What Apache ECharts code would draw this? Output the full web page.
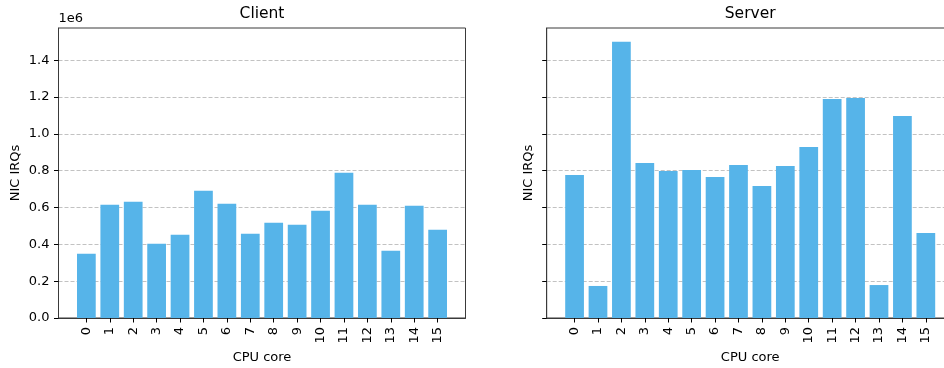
<!DOCTYPE html>
<html>
<head>
<meta charset="utf-8">
<script src="https://cdn.jsdelivr.net/npm/echarts@6/dist/echarts.min.js"></script>
<style>
  html, body { margin: 0; padding: 0; background: #fff; }
  #chart { width: 944px; height: 368px; }
</style>
</head>
<body>
<div id="chart"></div>
<script>
// NIC interrupt counts per CPU core, client and server side
const cores = [0, 1, 2, 3, 4, 5, 6, 7, 8, 9, 10, 11, 12, 13, 14, 15];
const clientIrqs = [349000, 615000, 631000, 403000, 452000, 691000, 620000, 458000,
                    517000, 506000, 582000, 789000, 615000, 365000, 610000, 479000];
const serverIrqs = [777000, 174000, 1500000, 842000, 798000, 804000, 766000, 831000,
                    717000, 826000, 929000, 1189000, 1195000, 179000, 1097000, 462000];
const yTicks = [0, 200000, 400000, 600000, 800000, 1000000, 1200000, 1400000];
const panelTitles = ['Client', 'Server'];

const FONT = 'DejaVu Sans';
const BAR = '#56B4E9';
const SPINE = '#3a3a3a';

// x range with a 5% margin around the bar extent, like a default plotting margin
const xMin = -0.4 - 0.79;
const xMax = 15.4 + 0.79;
const yMax = Math.max(...serverIrqs, ...clientIrqs) * 1.05;

const plotW = 407;
const plotTop = 28;
const plotH = 290;
const lefts = [58.5, 546.7];
const barPx = plotW / (xMax - xMin) * 0.8;

const chart = echarts.init(document.getElementById('chart'), null, { renderer: 'canvas' });

function grid(i) {
  return {
    left: lefts[i], top: plotTop, width: plotW, height: plotH,
    show: true, borderColor: SPINE, borderWidth: 1, backgroundColor: 'transparent',
    containLabel: false, outerBoundsMode: 'none'
  };
}

function xAxis(i) {
  return {
    type: 'value', gridIndex: i, min: xMin, max: xMax,
    name: 'CPU core', nameLocation: 'middle', nameGap: 31,
    nameTextStyle: { fontFamily: FONT, fontSize: 13, color: '#000' },
    axisLine: { show: true, onZero: false, lineStyle: { color: SPINE, width: 1 } },
    axisTick: { show: true, length: 4.5, lineStyle: { color: '#000', width: 1 }, customValues: cores },
    axisLabel: { show: true, rotate: 90, margin: 9, fontFamily: FONT, fontSize: 13, color: '#000',
                 customValues: cores, formatter: v => String(v) },
    splitLine: { show: false }
  };
}

function yAxis(i) {
  return {
    type: 'value', gridIndex: i, min: 0, max: yMax, interval: 200000,
    name: 'NIC IRQs', nameLocation: 'middle', nameRotate: 90, nameGap: i === 0 ? 36 : 12,
    nameTextStyle: { fontFamily: FONT, fontSize: 13, color: '#000' },
    axisLine: { show: true, onZero: false, lineStyle: { color: SPINE, width: 1 } },
    axisTick: { show: true, length: 4.5, lineStyle: { color: '#000', width: 1 }, customValues: yTicks },
    axisLabel: { show: i === 0, margin: 9, fontFamily: FONT, fontSize: 13, color: '#000',
                 customValues: yTicks, formatter: v => (v / 1e6).toFixed(1) },
    splitLine: { show: true, showMinLine: false,
                 lineStyle: { color: '#c2c2c2', type: [4, 2], width: 1 } }
  };
}

function barSeries(i, values) {
  return {
    type: 'bar', xAxisIndex: i, yAxisIndex: i,
    data: cores.map((c, k) => [c, values[k]]),
    barWidth: barPx,
    itemStyle: { color: BAR },
    silent: true, animation: false
  };
}

const titleFont = { fontFamily: FONT, fontSize: 15.5, fontWeight: 'normal', color: '#000' };

const option = {
  animation: false,
  backgroundColor: '#fff',
  textStyle: { fontFamily: FONT },
  title: [
    { text: panelTitles[0], left: lefts[0] + plotW / 2, top: 6, padding: 0, textAlign: 'center',
      textStyle: titleFont },
    { text: panelTitles[1], left: lefts[1] + plotW / 2, top: 6, padding: 0, textAlign: 'center',
      textStyle: titleFont },
    { text: '1e6', left: lefts[0], top: 12, padding: 0,
      textStyle: { fontFamily: FONT, fontSize: 13, fontWeight: 'normal', color: '#000' } }
  ],
  grid: [grid(0), grid(1)],
  xAxis: [xAxis(0), xAxis(1)],
  yAxis: [yAxis(0), yAxis(1)],
  series: [barSeries(0, clientIrqs), barSeries(1, serverIrqs)]
};

chart.setOption(option);
</script>
</body>
</html>
